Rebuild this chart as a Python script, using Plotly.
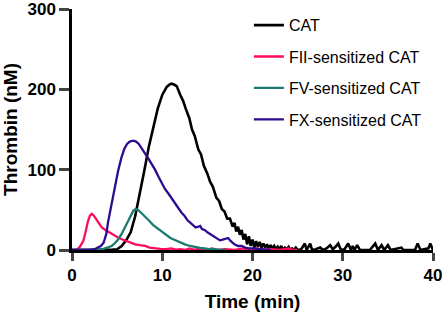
import plotly.graph_objects as go

# ---- data ----
cat_t = [0, 4, 4.5, 5, 5.5, 6, 6.5, 7, 7.5, 8, 8.5, 9, 9.5, 10, 10.5, 10.8, 11, 11.3, 11.6, 12, 12.3, 12.6, 13,
         13.3, 13.6, 14, 14.3, 14.6, 15, 15.3, 15.6, 16, 16.3, 16.6, 16.9, 17.2, 17.5, 17.8, 18.0, 18.2, 18.4, 18.6,
         18.8, 19.0, 19.2, 19.4, 19.6, 19.8, 20.0, 20.2, 20.4, 20.6, 20.8, 21.0, 21.2, 21.4, 21.6, 21.8, 22.0, 22.2,
         22.4, 22.6, 22.8, 23.0, 23.2, 23.4, 23.6, 23.8, 24.0, 24.2, 24.4, 24.6, 24.8, 25.0, 25.4, 25.8, 26.0, 26.4,
         26.6, 27.0, 27.5, 27.8, 28.2, 28.6, 28.9, 29.2, 29.5, 29.8, 30.2, 30.6, 30.9, 31.1, 31.3, 31.6, 31.9, 33.0,
         33.6, 33.9, 34.3, 34.6, 35.0, 35.3, 36.5, 36.7, 38.0, 38.3, 38.6, 39.5, 39.7, 40]
cat_y = [0, 0, 0.5, 1, 5, 12, 22, 42, 68, 98, 128, 153, 176, 193, 203, 206, 207, 206, 204, 193, 186, 176, 164,
         150, 142, 125, 119, 105, 95, 85, 79, 65, 61, 51, 48, 39, 39, 29, 34, 23, 29, 19,
         25, 13, 20, 7, 17, 5, 13, 3, 11, 4, 10, 3, 8, 3, 7, 2, 6, 2,
         5, 1, 4, 1, 5, 0, 3, 1, 4, 0, 2, 0, 3, 0, 1, 8, 0, 8,
         0, 1, 3, 0, 2, 6, 1, 4, 8, 0, 1, 8, 0, 5, 0, 6, 0, 0,
         8, 0, 6, 0, 6, 0, 3, 0, 0, 8, 0, 2, 8, 0]

fii_t = [0, 0.5, 0.8, 1.0, 1.25, 1.5, 1.75, 2.0, 2.2, 2.4, 2.7, 3.0, 3.3, 3.7, 4.0, 4.4, 4.8, 5.2, 5.6, 6.0, 6.6,
         7.0, 7.5, 8.1, 8.6, 9.2, 9.8, 10.4, 11, 11.5, 12, 12.5, 13, 13.5, 14, 15, 15.5, 16, 17, 18, 19, 19.5,
         20.5, 21, 22, 23, 24, 24.5, 25]
fii_y = [0, 0.5, 3, 6, 11, 22, 35, 43, 45, 43, 38, 33, 28, 25, 23, 20, 17, 15, 13, 11, 9,
         7, 6, 5, 3, 2, 1.5, 1, 2, 0.5, 1, 0, 2, 0.5, 1, 0, 2, 0, 1, 0, 2, 0,
         2, 0, 1, 0, 2, 0, 0]

fv_t = [0, 2.5, 3.0, 3.5, 4.0, 4.4, 4.8, 5.1, 5.5, 5.9, 6.2, 6.5, 6.8, 7.05, 7.3, 7.6, 8.0, 8.5, 9.0, 9.5, 9.9,
        10.4, 10.9, 11.4, 12, 12.5, 13.1, 13.6, 14.2, 14.7, 15.2, 15.7, 16.2, 17]
fv_y = [0, 0, 0.5, 1.5, 3, 5, 9, 13, 20, 29, 37, 44, 49, 51, 50, 47, 43, 37, 31, 27, 23,
        19, 15, 12.5, 9, 7, 5, 3.5, 2.5, 2, 1, 1.5, 0.5, 0]

fx_t = [0, 2.0, 2.5, 2.9, 3.2, 3.5, 3.8, 4.0, 4.3, 4.6, 4.8, 5.1, 5.5, 5.8, 6.1, 6.4, 6.8, 7.1, 7.4, 7.8, 8.1,
        8.5, 8.9, 9.2, 9.6, 10.0, 10.3, 10.7, 11.0, 11.4, 11.8, 12.1, 12.5, 12.8, 13.1, 13.4, 13.7, 14.0, 14.2,
        14.4, 14.7, 15.0, 15.3, 15.6, 16.0, 16.4, 16.7, 17.0, 17.3, 17.6, 18.0, 18.4, 18.8, 19.2, 19.6, 20, 21, 22]
fx_y = [0, 0, 1, 3, 5, 9, 20, 35, 52, 70, 80, 98, 116, 126, 132, 135, 136, 135, 132, 126, 120,
        113, 106, 100, 91, 82, 76, 70, 65, 58, 52, 47, 42, 37, 34, 31, 28, 29, 30,
        26, 25, 22, 20, 18, 15, 12, 13, 14, 15, 11, 7, 5, 5, 3, 2, 2, 1, 0]

names = ["CAT", "FII-sensitized CAT", "FV-sensitized CAT", "FX-sensitized CAT"]
colors = ["#000000", "#FF0A5F", "#1B7A72", "#2D0B8F"]
x_ticks = [0, 10, 20, 30, 40]
y_ticks = [0, 100, 200, 300]

FONT = "Liberation Sans, Arial, sans-serif"

fig = go.Figure()
series = [(cat_t, cat_y), (fii_t, fii_y), (fv_t, fv_y), (fx_t, fx_y)]
for i, ((t, y), n, c) in enumerate(zip(series, names, colors)):
    fig.add_trace(go.Scatter(x=t, y=y, mode="lines", name=n, legendgroup=n,
                             line=dict(color=c, width=2.6 if i == 0 else 2.3),
                             cliponaxis=False))

fig.update_layout(
    width=447, height=316,
    margin=dict(l=72, r=14, t=9, b=66, autoexpand=False),
    paper_bgcolor="white", plot_bgcolor="white",
    font=dict(family=FONT, color="black"),
    showlegend=True,
    legend=dict(x=0.49, y=1.0034, xanchor="left", yanchor="top",
                font=dict(family=FONT, size=16, color="black"),
                tracegroupgap=7.6, bgcolor="rgba(0,0,0,0)", borderwidth=0),
)
fig.update_xaxes(range=[0, 40], tickvals=x_ticks, ticks="outside", ticklen=8, tickwidth=2.5,
                 showline=True, linewidth=2.5, linecolor="black", showgrid=False, zeroline=False,
                 tickfont=dict(family=FONT, size=17, weight="bold"), automargin=False,
                 ticklabeloverflow="allow",
                 title=dict(text="Time (min)", font=dict(family=FONT, size=19, weight="bold"), standoff=11),
                 layer="below traces")
fig.update_yaxes(range=[0, 300], tickvals=y_ticks, ticks="outside", ticklen=10, tickwidth=2.5,
                 showline=True, linewidth=2.5, linecolor="black", showgrid=False, zeroline=False,
                 tickfont=dict(family=FONT, size=17, weight="bold"), automargin=False,
                 ticklabeloverflow="allow",
                 title=dict(text="Thrombin (nM)", font=dict(family=FONT, size=19, weight="bold"), standoff=6),
                 layer="below traces")

fig.write_html("out.html", config={"displayModeBar": False},
               post_script="document.body.style.margin='0';")
